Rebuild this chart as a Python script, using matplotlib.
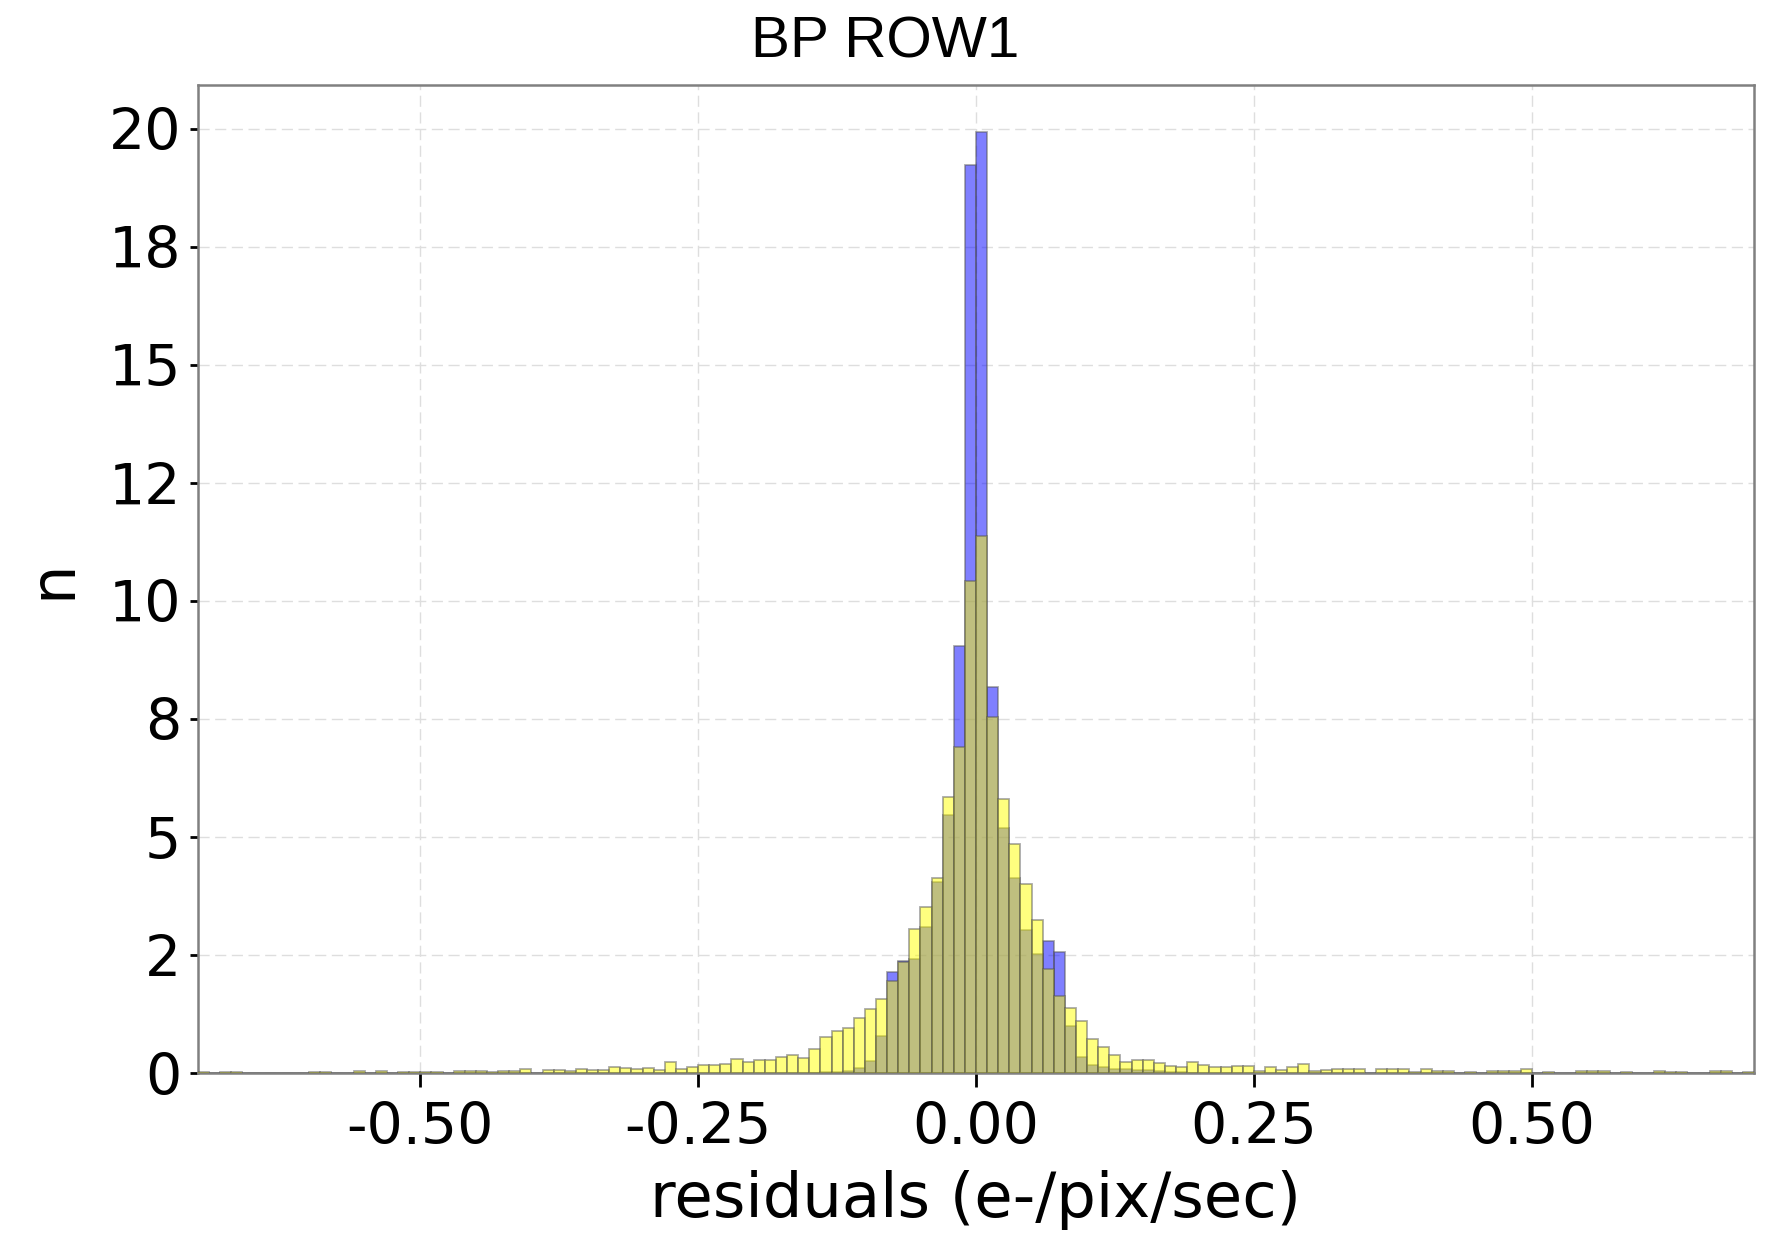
import numpy as np
import matplotlib
matplotlib.use("Agg")
import matplotlib.pyplot as plt
from matplotlib.ticker import FuncFormatter


BIN_WIDTH = 0.01
BIN_START = -0.70

# density per 0.01-wide bin, from -0.70 up to 0.70
yellow_counts = [
    0.03, 0.00, 0.03, 0.03, 0.00, 0.00, 0.00, 0.00, 0.00, 0.00,   # -0.70 .. -0.61
    0.03, 0.03, 0.00, 0.00, 0.05, 0.00, 0.05, 0.00, 0.03, 0.03,   # -0.60 .. -0.51
    0.03, 0.03, 0.01, 0.04, 0.04, 0.04, 0.02, 0.04, 0.04, 0.09,   # -0.50 .. -0.41
    0.01, 0.06, 0.06, 0.04, 0.10, 0.06, 0.07, 0.13, 0.12, 0.09,   # -0.40 .. -0.31
    0.11, 0.07, 0.23, 0.10, 0.13, 0.17, 0.18, 0.20, 0.30, 0.24,   # -0.30 .. -0.21
    0.27, 0.28, 0.35, 0.39, 0.32, 0.51, 0.77, 0.90, 0.95, 1.18,   # -0.20 .. -0.11
    1.36, 1.57, 1.96, 2.35, 3.05, 3.52, 4.13, 5.85, 6.91, 10.42,  # -0.10 .. -0.01
    11.37, 7.54, 5.81, 4.85, 4.00, 3.25, 2.20, 1.64, 1.39, 1.11,  # 0.00 .. 0.09
    0.73, 0.56, 0.38, 0.23, 0.27, 0.27, 0.21, 0.16, 0.14, 0.23,   # 0.10 .. 0.19
    0.17, 0.14, 0.14, 0.15, 0.15, 0.05, 0.14, 0.07, 0.13, 0.20,   # 0.20 .. 0.29
    0.05, 0.07, 0.08, 0.08, 0.08, 0.01, 0.08, 0.08, 0.08, 0.03,   # 0.30 .. 0.39
    0.09, 0.05, 0.04, 0.00, 0.03, 0.00, 0.04, 0.04, 0.04, 0.08,   # 0.40 .. 0.49
    0.00, 0.03, 0.00, 0.00, 0.05, 0.05, 0.04, 0.00, 0.03, 0.00,   # 0.50 .. 0.59
    0.00, 0.05, 0.03, 0.03, 0.00, 0.00, 0.04, 0.04, 0.00, 0.03,   # 0.60 .. 0.69
]

# blue series only has mass near zero: bins -0.15 .. 0.19
blue_first_bin = -0.15
blue_counts = [
    0.01, 0.02, 0.03, 0.05, 0.12,          # -0.15 .. -0.11
    0.25, 0.79, 2.15, 2.37, 2.41,          # -0.10 .. -0.06
    3.09, 4.04, 5.46, 9.05, 19.22,         # -0.05 .. -0.01
    19.93, 8.18, 5.20, 4.13, 3.04,         # 0.00 .. 0.04
    2.52, 2.79, 2.56, 1.01, 0.35,          # 0.05 .. 0.09
    0.18, 0.14, 0.10, 0.08, 0.07,          # 0.10 .. 0.14
    0.06, 0.04, 0.03, 0.02, 0.01,          # 0.15 .. 0.19
]

x_ticks = [-0.50, -0.25, 0.00, 0.25, 0.50]
y_ticks = [0, 2.5, 5, 7.5, 10, 12.5, 15, 17.5, 20]

yellow_left = np.round(BIN_START + BIN_WIDTH * np.arange(len(yellow_counts)), 2)
blue_left = np.round(blue_first_bin + BIN_WIDTH * np.arange(len(blue_counts)), 2)

fig = plt.figure(figsize=(17.71, 12.5), dpi=100)
ax = fig.add_axes([0.1118, 0.1414, 0.8786, 0.7908])

ax.bar(blue_left, blue_counts, width=BIN_WIDTH, align="edge",
       color="#0000ff", alpha=0.5, edgecolor="#555555", linewidth=1.3, zorder=2)
ax.bar(yellow_left, yellow_counts, width=BIN_WIDTH, align="edge",
       color="#ffff00", alpha=0.5, edgecolor="#555555", linewidth=1.3, zorder=3)

ax.set_xlim(-0.70, 0.70)
ax.set_ylim(0, max(blue_counts) * 1.05)

ax.set_xticks(x_ticks)
ax.set_yticks(y_ticks)
ax.xaxis.set_major_formatter(FuncFormatter(lambda v, p: f"{v:.2f}"))
ax.yaxis.set_major_formatter(FuncFormatter(lambda v, p: f"{v:.0f}"))

ax.grid(True, color="#dedede", linestyle=(0, (8, 4)), linewidth=1.0, zorder=0)
ax.set_axisbelow(True)

for s in ax.spines.values():
    s.set_color("#808080")
    s.set_linewidth(1.8)

ax.tick_params(axis="x", length=10, width=2, color="black", pad=10,
               labelsize=41)
ax.tick_params(axis="y", length=6, width=2, color="black", pad=6,
               labelsize=41)
for lab in ax.get_xticklabels() + ax.get_yticklabels():
    lab.set_family("DejaVu Sans")

ax.set_xlabel("residuals (e-/pix/sec)", fontsize=45, family="DejaVu Sans",
              labelpad=10)
ax.set_ylabel("n", fontsize=45, family="DejaVu Sans", labelpad=18)

# title is centred on the figure, not on the axes
fig.text(0.5, 0.966, "BP ROW1", fontsize=42, family="Liberation Sans",
         ha="center", va="center")

fig.savefig("out.png", dpi=100, facecolor="white")
